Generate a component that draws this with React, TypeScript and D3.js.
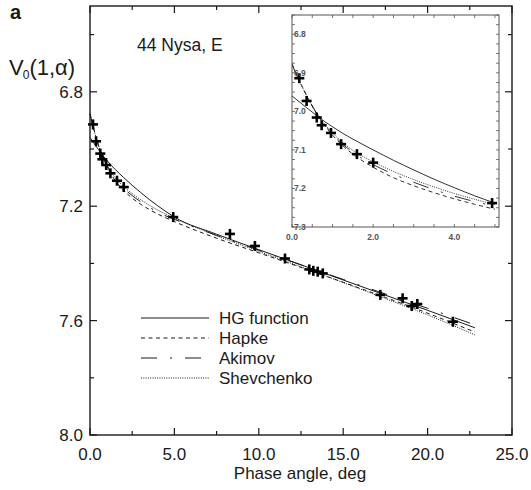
import React from "react";
import * as d3 from "d3";

// ---- data ----
const obsPhase = [0.18, 0.36, 0.61, 0.73, 0.96, 1.21, 1.6, 2.0, 4.93, 8.29, 9.77, 11.55, 12.99, 13.23, 13.49, 13.79, 17.2, 18.52, 19.06, 19.39, 21.5];
const obsMag = [6.914, 6.973, 7.016, 7.036, 7.056, 7.085, 7.111, 7.133, 7.238, 7.297, 7.339, 7.383, 7.421, 7.426, 7.429, 7.435, 7.51, 7.522, 7.549, 7.542, 7.604];

const curvePhase = [0, 0.2, 0.4, 0.6, 0.8, 1.0, 1.25, 1.5, 2.0, 2.5, 3.0, 3.5, 4.0, 4.5, 5.0, 7.5, 10, 12.5, 15, 17.5, 20, 22.8];
const hgMag = [6.960, 6.977, 6.994, 7.010, 7.026, 7.040, 7.057, 7.072, 7.100, 7.127, 7.152, 7.176, 7.198, 7.219, 7.238, 7.298, 7.352, 7.405, 7.458, 7.511, 7.564, 7.625];
const hapkeMag = [6.876, 6.924, 6.967, 7.005, 7.036, 7.062, 7.089, 7.111, 7.145, 7.172, 7.193, 7.211, 7.227, 7.241, 7.254, 7.312, 7.363, 7.414, 7.466, 7.519, 7.574, 7.640];
const akimovMag = [6.878, 6.925, 6.967, 7.004, 7.034, 7.059, 7.085, 7.106, 7.138, 7.163, 7.184, 7.203, 7.220, 7.234, 7.246, 7.302, 7.354, 7.405, 7.456, 7.507, 7.557, 7.615];
const shevMag = [6.880, 6.926, 6.967, 7.003, 7.032, 7.056, 7.081, 7.101, 7.131, 7.156, 7.177, 7.196, 7.213, 7.228, 7.242, 7.303, 7.358, 7.412, 7.467, 7.523, 7.580, 7.650];

const seriesNames = ["HG function", "Hapke", "Akimov", "Shevchenko"];
const seriesDash = ["none", "4 3.5", "16 13 2 13", "1 1.3"];

const xMajor = [0, 5, 10, 15, 20, 25];
const xMinor = [2.5, 7.5, 12.5, 17.5, 22.5];
const yMajor = [6.8, 7.2, 7.6, 8.0];
const yMinor = [6.6, 7.0, 7.4, 7.8];
const insetXLabels = [0, 2, 4];
const insetYLabels = [6.8, 6.9, 7.0, 7.1, 7.2, 7.3];

const FONT = "'Liberation Sans', Arial, sans-serif";
const INK = "#1a1a1a";

export default function App() {
  const x = d3.scaleLinear().domain([0, 25]).range([90, 512]);
  const y = d3.scaleLinear().domain([6.5, 8.0]).range([6, 435]);
  const ix = d3.scaleLinear().domain([0, 5.1]).range([292, 499]);
  const iy = d3.scaleLinear().domain([6.75, 7.3]).range([15, 227]);

  const allMags = [hgMag, hapkeMag, akimovMag, shevMag];
  const pts = (m: number[]) => curvePhase.map((p, i) => [p, m[i]] as [number, number]);

  const mainLine = d3.line<[number, number]>().x(d => x(d[0])).y(d => y(d[1])).curve(d3.curveMonotoneX);
  const insetLine = d3.line<[number, number]>().x(d => ix(d[0])).y(d => iy(d[1])).curve(d3.curveMonotoneX);

  const plus = (cx: number, cy: number, k: string, r = 5) => (
    <g key={k} stroke="#000" strokeWidth={2.6}>
      <line x1={cx - r} x2={cx + r} y1={cy} y2={cy} />
      <line x1={cx} x2={cx} y1={cy - r} y2={cy + r} />
    </g>
  );

  const insetXMinor = d3.range(0, 5.01, 0.5);
  const insetYMinor = d3.range(6.75, 7.3001, 0.025);

  const legendY = [318, 338, 358, 378];

  return (
    <svg width={531} height={490} style={{ position: "absolute", left: 0, top: 0, background: "#fff" }} fontFamily={FONT}>
      <rect x={0} y={0} width={531} height={490} fill="#fff" />
      {/* panel letter */}
      <text x={10} y={19} fontSize={20} fontWeight="bold" fill={INK}>a</text>
      {/* y axis title */}
      <text x={9} y={75} fontSize={22} fill={INK}>
        V<tspan fontSize={12} dx={-1} dy={4}>0</tspan><tspan dy={-4}>(1,α)</tspan>
      </text>
      <text x={137} y={51} fontSize={17.5} fill={INK}>44 Nysa, E</text>

      {/* curves main */}
      <g fill="none" stroke={INK} strokeWidth={1}>
        {allMags.map((m, i) => (
          <path key={i} d={mainLine(pts(m)) || ""} strokeDasharray={seriesDash[i]} />
        ))}
      </g>
      {/* observations main */}
      {obsPhase.map((p, i) => plus(x(p), y(obsMag[i]), "m" + i))}

      {/* frame */}
      <rect x={90} y={6} width={422} height={429} fill="none" stroke={INK} strokeWidth={1.4} />
      <g stroke={INK} strokeWidth={1.2}>
        {xMajor.map(v => (
          <g key={"xM" + v}>
            <line x1={x(v)} x2={x(v)} y1={435} y2={428} />
            <line x1={x(v)} x2={x(v)} y1={6} y2={13} />
          </g>
        ))}
        {xMinor.map(v => (
          <g key={"xm" + v}>
            <line x1={x(v)} x2={x(v)} y1={435} y2={431} />
            <line x1={x(v)} x2={x(v)} y1={6} y2={10} />
          </g>
        ))}
        {yMajor.map(v => (
          <g key={"yM" + v}>
            <line x1={90} x2={97} y1={y(v)} y2={y(v)} />
            <line x1={512} x2={505} y1={y(v)} y2={y(v)} />
          </g>
        ))}
        {yMinor.map(v => (
          <g key={"ym" + v}>
            <line x1={90} x2={94} y1={y(v)} y2={y(v)} />
            <line x1={512} x2={508} y1={y(v)} y2={y(v)} />
          </g>
        ))}
      </g>
      {yMajor.map(v => (
        <text key={"yl" + v} x={83} y={y(v) + 6} fontSize={17} textAnchor="end" fill={INK}>{v.toFixed(1)}</text>
      ))}
      {xMajor.map(v => (
        <text key={"xl" + v} x={x(v)} y={460} fontSize={17} textAnchor="middle" fill={INK}>{v.toFixed(1)}</text>
      ))}
      <text x={300} y={479} fontSize={17} textAnchor="middle" fill={INK}>Phase angle, deg</text>

      {/* legend */}
      {seriesNames.map((n, i) => (
        <g key={"lg" + i}>
          <line x1={141} x2={209} y1={legendY[i]} y2={legendY[i]} stroke={INK} strokeWidth={1} strokeDasharray={seriesDash[i]} />
          <text x={219} y={legendY[i] + 6} fontSize={17} fill={INK}>{n}</text>
        </g>
      ))}

      {/* inset */}
      <defs>
        <clipPath id="insetClip">
          <rect x={292} y={15} width={207} height={212} />
        </clipPath>
      </defs>
      <rect x={292} y={15} width={207} height={212} fill="#fff" />
      <g clipPath="url(#insetClip)">
        <g fill="none" stroke={INK} strokeWidth={0.9}>
          {allMags.map((m, i) => (
            <path key={"i" + i} d={insetLine(pts(m).filter(d => d[0] <= 5)) || ""} strokeDasharray={seriesDash[i]} />
          ))}
        </g>
      </g>
      {obsPhase.filter(p => p <= 5).map((p, i) => plus(ix(p), iy(obsMag[i]), "i" + i))}
      <rect x={292} y={15} width={207} height={212} fill="none" stroke="#555" strokeWidth={1} />
      <g stroke="#555" strokeWidth={0.8}>
        {insetXMinor.map(v => (
          <g key={"ixm" + v}>
            <line x1={ix(v)} x2={ix(v)} y1={227} y2={224} />
            <line x1={ix(v)} x2={ix(v)} y1={15} y2={18} />
          </g>
        ))}
        {insetYMinor.map(v => (
          <g key={"iym" + v}>
            <line x1={292} x2={295} y1={iy(v)} y2={iy(v)} />
            <line x1={499} x2={496} y1={iy(v)} y2={iy(v)} />
          </g>
        ))}
      </g>
      {insetYLabels.map(v => (
        <text key={"iyl" + v} x={294} y={iy(v) + 3} fontSize={8.5} fontWeight="bold" fill="#555">{v.toFixed(1)}</text>
      ))}
      {insetXLabels.map(v => (
        <text key={"ixl" + v} x={ix(v)} y={240} fontSize={8.5} fontWeight="bold" textAnchor="middle" fill="#555">{v.toFixed(1)}</text>
      ))}
    </svg>
  );
}
